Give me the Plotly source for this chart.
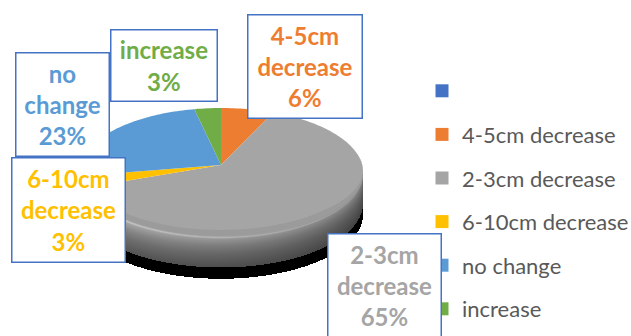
import numpy as np
import plotly.graph_objects as go

# ---- data ----
categories = ["", "4-5cm decrease", "2-3cm decrease", "6-10cm decrease", "no change", "increase"]
values = [0, 6, 65, 3, 23, 3]
colors = ["#4472C4", "#ED7D31", "#A5A5A5", "#FFC000", "#5B9BD5", "#70AD47"]

W, H = 631, 336
# 3-D pie geometry (pixel space): rim ellipse, apex of the slices, wall depth
CX, CYE, RX, RY = 221, 172, 142, 64
APEX_Y = 165
DEPTH = 31


def hex_rgb(h):
    h = h.lstrip("#")
    return np.array([int(h[i:i + 2], 16) for i in (0, 2, 4)], dtype=float)


def shade(h, f):
    c = np.clip(np.round(hex_rgb(h) * f), 0, 255).astype(int)
    return "rgb(%d,%d,%d)" % tuple(c)


def ell(t, dy=0.0):
    return CX + RX * np.sin(t), CYE - RY * np.cos(t) + dy


total = float(sum(values))
cum = np.concatenate([[0.0], np.cumsum(values)]) / total * 2 * np.pi

fig = go.Figure()

# ---- front wall of the disc, rendered as a shaded raster ----
x_lo, x_hi = CX - RX - 2, CX + RX + 2
y_lo, y_hi = CYE - 4, CYE + RY + DEPTH + 12
px = np.arange(x_lo, x_hi) + 0.5
py = np.arange(y_lo, y_hi) + 0.5
PX, PY = np.meshgrid(px, py)
s = np.clip((PX - CX) / RX, -1, 1)
t = np.pi - np.arcsin(s)                      # front half: 90..270 degrees
rim = CYE + RY * np.sqrt(1 - s ** 2)
d = PY - rim
u = (t - np.pi / 2) / np.pi                   # 0 at right end, 1 at left end

idx = np.clip(np.searchsorted(cum, t, side="right") - 1, 0, len(values) - 1)
base = np.stack([hex_rgb(c) for c in colors])[idx]

# vertical profile: rim highlight, then darkening towards the bottom edge
dp = [-2, 0, 1.5, 3, 6, 10, 18, 26, DEPTH]
fp = [1.00, 1.05, 1.20, 1.00, 0.92, 0.82, 0.68, 0.58, 0.52]
fv = np.interp(d, dp, fp)
fh = 0.74 + 0.34 * u
rgb = np.clip(base * (fv * fh)[..., None], 0, 255)

edge_a = np.clip(RX - np.abs(PX - CX) + 0.5, 0, 1)
wall_a = np.clip(DEPTH - d + 0.5, 0, 1) * (d >= -2) * edge_a
# faint drop shadow beneath the bottom edge
sh_d = d - DEPTH
shadow_a = np.where((sh_d > 0) & (sh_d < 12), 0.10 * (1 - sh_d / 12), 0) * edge_a
alpha = np.clip(wall_a + shadow_a * (1 - wall_a), 0, 1)
mix = np.where(wall_a[..., None] > 0, rgb, 0)
rgba = np.zeros(PX.shape + (4,), dtype=np.uint8)
rgba[..., :3] = np.clip(np.round(mix), 0, 255).astype(np.uint8)
rgba[..., 3] = np.round(alpha * 255).astype(np.uint8)
fig.add_trace(go.Image(z=rgba, colormodel="rgba", x0=x_lo + 0.5, y0=y_lo + 0.5, dx=1, dy=1,
                       hoverinfo="skip"))


def poly(xs, ys, col):
    fig.add_trace(go.Scatter(x=xs, y=ys, fill="toself", fillcolor=col, mode="none",
                             hoverinfo="skip", showlegend=False))


# top faces of the slices
for i, v in enumerate(values):
    if v <= 0:
        continue
    tt = np.linspace(cum[i], cum[i + 1], max(3, int(v * 3)))
    xs, ys = ell(tt)
    poly(np.concatenate([[CX], xs, [CX]]), np.concatenate([[APEX_Y], ys, [APEX_Y]]), colors[i])

# slight inner bevel shade along the front rim of the top face
for i, v in enumerate(values):
    if v <= 0:
        continue
    a0, a1 = max(cum[i], np.pi / 2 - 0.3), min(cum[i + 1], 3 * np.pi / 2 + 0.3)
    if a1 <= a0:
        continue
    tt = np.linspace(a0, a1, 40)
    xs, ys = ell(tt)
    w = 6 * np.clip(-np.cos(tt) + 0.3, 0, 1)
    poly(np.concatenate([xs, xs[::-1]]), np.concatenate([ys - w, ys[::-1]]), shade(colors[i], 0.94))

# legend entries
for i, name in enumerate(categories):
    fig.add_trace(go.Scatter(x=[-100], y=[-100], mode="markers", name=name,
                             marker=dict(symbol="square", size=13, color=colors[i]),
                             legendgroup=str(i), showlegend=True))

# boxed data labels: (x0, x1, y0, y1)
boxes = {
    1: (247, 363, 14, 119),
    2: (327, 442, 233, 338),
    3: (11, 126, 157, 263),
    4: (15, 110, 52, 157),
    5: (110, 218, 29, 102),
}
lines = {
    1: ["4-5cm", "decrease"],
    2: ["2-3cm", "decrease"],
    3: ["6-10cm", "decrease"],
    4: ["no", "change"],
    5: ["increase"],
}
BW = 1.5
annotations = []
for i, (x0, x1, y0, y1) in boxes.items():
    pct = "%d%%" % round(values[i] / total * 100)
    txt = "<br>".join(lines[i] + [pct])
    annotations.append(dict(
        x=(x0 + x1) / 2, y=(y0 + y1) / 2, xref="x", yref="y", text="<b>" + txt + "</b>",
        showarrow=False, xanchor="center", yanchor="middle", align="center", valign="middle",
        width=x1 - x0 - 2 * BW, height=y1 - y0 - 2 * BW, borderpad=0,
        bordercolor="#4472C4", borderwidth=BW, bgcolor="white",
        font=dict(family="Lato", size=24, color=colors[i])))

fig.update_layout(
    width=W, height=H,
    margin=dict(l=0, r=0, t=0, b=0, autoexpand=False),
    paper_bgcolor="white", plot_bgcolor="white",
    xaxis=dict(range=[0, W], visible=False, fixedrange=True),
    yaxis=dict(range=[H, 0], visible=False, fixedrange=True, autorange=False),
    showlegend=True,
    legend=dict(x=422 / W, y=1 - 70 / H, xanchor="left", yanchor="top",
                font=dict(family="Lato", size=22, color="#595959"),
                tracegroupgap=12, bgcolor="rgba(0,0,0,0)", itemclick=False),
    annotations=annotations,
)

fig.write_html("out.html")
